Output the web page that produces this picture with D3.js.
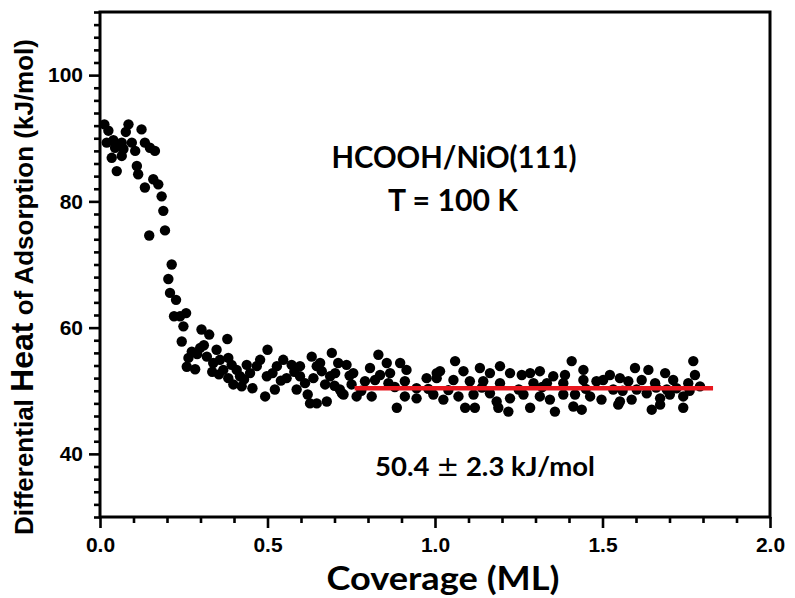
<!DOCTYPE html>
<html>
<head>
<meta charset="utf-8">
<script src="https://cdn.jsdelivr.net/npm/d3@7"></script>
<style>
  html, body { margin: 0; padding: 0; background: #fff; }
  svg { display: block; }
</style>
</head>
<body>
<svg id="chart" width="795" height="598"></svg>
<script>
// ---- data ----
const coverage = [
  0.013,0.025,0.085,0.077,0.124,0.020,0.040,0.065,0.095,0.045,0.070,0.105,0.134,0.149,0.164,0.035,0.065,0.050,0.110,0.114,
  0.134,0.159,0.174,0.184,0.189,0.194,0.147,0.214,0.204,0.209,0.227,0.221,0.239,0.257,0.249,0.244,0.303,0.326,0.380,0.274,
  0.299,0.264,0.259,0.284,0.319,0.348,0.338,0.358,0.383,0.368,0.393,0.408,0.383,0.398,0.423,0.418,0.438,0.448,0.468,0.478,
  0.500,0.493,0.522,0.498,0.528,0.547,0.557,0.572,0.597,0.587,0.612,0.627,0.647,0.677,0.632,0.647,0.637,0.662,0.672,0.692,
  0.702,0.722,0.736,
  0.831,0.657,0.711,0.806,0.856,0.896,0.915,0.866,0.836,0.597,0.687,0.756,0.716,0.751,0.791,0.821,0.861,0.910,0.727,0.766,
  0.811,0.886,0.945,0.975,1.005,0.945,0.910,
  1.060,1.085,1.134,1.194,1.015,1.005,1.055,1.104,1.164,1.224,1.259,1.284,1.313,1.353,1.388,1.408,1.194,1.144,1.294,1.334,
  1.383,0.995,1.025,1.070,1.115,1.164,1.184,1.224,1.264,1.313,1.343,1.383,1.090,1.119,1.189,1.219,1.284,1.358,1.413,
  1.443,1.522,1.597,1.637,1.687,1.771,1.776,1.443,1.482,1.502,1.552,1.577,1.617,1.657,1.711,1.756,1.791,1.418,1.463,1.497,
  1.552,1.587,1.632,1.672,1.701,1.741,1.438,1.547,1.647,1.672,1.741,1.532,1.602,1.692,1.721,
  0.780,0.880,0.980,1.040,1.140,1.250,1.320,1.450,1.560,1.660,1.760,
  0.290,0.310,0.335,0.355,0.430,0.455,0.515,0.540,0.580,0.620,0.700,0.745
];
const heat = [
  92.2,91.2,92.2,91.0,91.4,89.3,89.7,89.3,89.3,88.5,88.3,88.0,89.3,88.5,88.0,86.9,87.2,84.8,85.6,84.3,
  82.2,83.5,82.7,80.8,78.5,75.4,74.6,70.0,67.7,65.5,64.4,61.8,61.8,62.3,60.2,57.8,59.7,58.9,58.2,56.2,
  56.8,55.2,53.8,53.4,55.4,56.5,54.4,54.9,55.2,53.3,54.1,53.3,52.0,51.0,50.7,52.3,54.1,52.8,53.9,54.9,
  56.5,49.1,50.2,52.3,53.9,54.9,52.0,54.1,53.9,50.2,51.2,48.0,48.0,48.3,55.4,53.9,52.0,53.1,51.0,56.0,
  52.8,49.6,54.1,
  55.7,54.4,54.4,53.6,54.4,54.4,53.3,52.8,52.5,52.3,52.3,52.8,50.2,51.0,51.5,51.7,51.2,51.5,49.4,49.1,
  49.1,47.3,48.8,52.0,52.8,50.4,49.1,
  54.7,53.1,53.6,53.9,53.1,52.0,51.7,51.5,52.8,52.8,52.5,52.8,53.1,52.3,52.5,54.7,51.2,51.5,51.2,51.2,
  51.2,49.4,48.6,49.1,49.4,49.6,48.3,48.8,49.4,49.1,48.6,49.4,47.3,47.3,47.3,46.7,47.3,46.7,47.5,
  53.3,52.5,53.6,53.3,52.8,54.7,52.5,51.7,51.5,51.7,52.0,51.5,51.7,51.2,51.7,51.2,50.7,49.4,49.1,48.6,
  48.3,48.6,49.6,48.8,49.4,49.1,47.0,47.8,47.0,47.8,47.3,50.2,50.2,50.2,50.4,
  50.0,50.6,50.3,50.1,50.5,50.2,50.6,50.3,50.0,50.5,50.0,
  55.8,57.2,53.0,52.6,51.8,50.4,52.8,51.6,53.0,49.4,50.8,52.4
];
const fitValue = 50.4;
const fitRange = [0.76, 1.83];
const xTickLabels = ["0.0", "0.5", "1.0", "1.5", "2.0"];
const yTickLabels = ["40", "60", "80", "100"];
const xDomain = [0, 2.0];
const yDomain = [30, 110];
const title1 = "HCOOH/NiO(111)";
const title2 = "T = 100 K";
const fitLabel = ["50.4 ", "\u00B1", " 2.3 kJ/mol"];

// ---- layout ----
const L = 100, R = 770, T = 12, B = 517;
const svg = d3.select("#chart");
const x = d3.scaleLinear().domain(xDomain).range([L, R]);
const y = d3.scaleLinear().domain(yDomain).range([B, T]);

const tickFont = "'Liberation Sans', Arial, sans-serif";
const calFont = "Lato, 'Open Sans', sans-serif";

// points
svg.append("g").selectAll("circle")
  .data(coverage.map((c, i) => [c, heat[i]]))
  .join("circle")
  .attr("cx", d => x(d[0]))
  .attr("cy", d => y(d[1]))
  .attr("r", 5.2)
  .attr("fill", "#000");

// fit line
svg.append("line")
  .attr("x1", x(fitRange[0])).attr("x2", x(fitRange[1]))
  .attr("y1", y(fitValue)).attr("y2", y(fitValue))
  .attr("stroke", "#e8161e").attr("stroke-width", 4.5);

// frame
svg.append("rect")
  .attr("x", L).attr("y", T).attr("width", R - L).attr("height", B - T)
  .attr("fill", "none").attr("stroke", "#000").attr("stroke-width", 3);

// x axis ticks
const xMinor = d3.range(0, 21).map(i => i / 10).filter(v => Math.abs(v * 2 - Math.round(v * 2)) > 1e-6);
const xAxisMajor = d3.axisBottom(x).tickValues(xTickLabels.map(Number))
  .tickFormat((d, i) => xTickLabels[i]).tickSize(11).tickPadding(9);
const gx = svg.append("g").attr("transform", `translate(0,${B})`).call(xAxisMajor);
gx.select(".domain").remove();
gx.selectAll(".tick line").attr("stroke-width", 2.6);
gx.selectAll(".tick text").attr("font-family", tickFont).attr("font-weight", "bold")
  .attr("font-size", 21).attr("fill", "#000");
const gxm = svg.append("g").attr("transform", `translate(0,${B})`)
  .call(d3.axisBottom(x).tickValues(xMinor).tickSize(6).tickFormat(""));
gxm.select(".domain").remove();
gxm.selectAll(".tick line").attr("stroke-width", 2.6);

// y axis ticks
const yMinor = d3.range(30, 111, 2).filter(v => v % 20 !== 0);
const gy = svg.append("g").attr("transform", `translate(${L},0)`)
  .call(d3.axisLeft(y).tickValues(yTickLabels.map(Number))
    .tickFormat((d, i) => yTickLabels[i]).tickSize(11).tickPadding(6));
gy.select(".domain").remove();
gy.selectAll(".tick line").attr("stroke-width", 2.6);
gy.selectAll(".tick text").attr("font-family", tickFont).attr("font-weight", "bold")
  .attr("font-size", 21).attr("fill", "#000");
const gym = svg.append("g").attr("transform", `translate(${L},0)`)
  .call(d3.axisLeft(y).tickValues(yMinor).tickSize(6).tickFormat(""));
gym.select(".domain").remove();
gym.selectAll(".tick line").attr("stroke-width", 2.6);

// annotations
svg.append("text").attr("x", 454).attr("y", 168).attr("text-anchor", "middle")
  .attr("font-family", calFont).attr("font-weight", "bold").attr("font-size", 29.5)
  .attr("textLength", 245).attr("lengthAdjust", "spacingAndGlyphs")
  .text(title1);
svg.append("text").attr("x", 453).attr("y", 211).attr("text-anchor", "middle")
  .attr("font-family", calFont).attr("font-weight", "bold").attr("font-size", 29.5)
  .attr("textLength", 130).attr("lengthAdjust", "spacingAndGlyphs")
  .text(title2);
const ft = svg.append("text").attr("x", 485).attr("y", 476).attr("text-anchor", "middle")
  .attr("font-family", calFont).attr("font-weight", "bold").attr("font-size", 27.5);
ft.append("tspan").text(fitLabel[0]);
ft.append("tspan").attr("font-weight", "normal").attr("font-family", "'DejaVu Sans', sans-serif").text(fitLabel[1]);
ft.append("tspan").text(fitLabel[2]);

// axis titles
svg.append("text").attr("x", 443).attr("y", 590).attr("text-anchor", "middle")
  .attr("font-family", calFont).attr("font-weight", "bold").attr("font-size", 32)
  .attr("textLength", 233).attr("lengthAdjust", "spacingAndGlyphs")
  .text("Coverage (ML)");

const yt = svg.append("text")
  .attr("transform", "translate(33,287) rotate(-90)")
  .attr("text-anchor", "middle")
  .attr("font-family", tickFont).attr("font-weight", "bold").attr("font-size", 26);
yt.append("tspan").text("Differential ");
yt.append("tspan").attr("font-size", 32).text("Heat");
yt.append("tspan").text(" of Adsorption (kJ/mol)");
</script>
</body>
</html>
